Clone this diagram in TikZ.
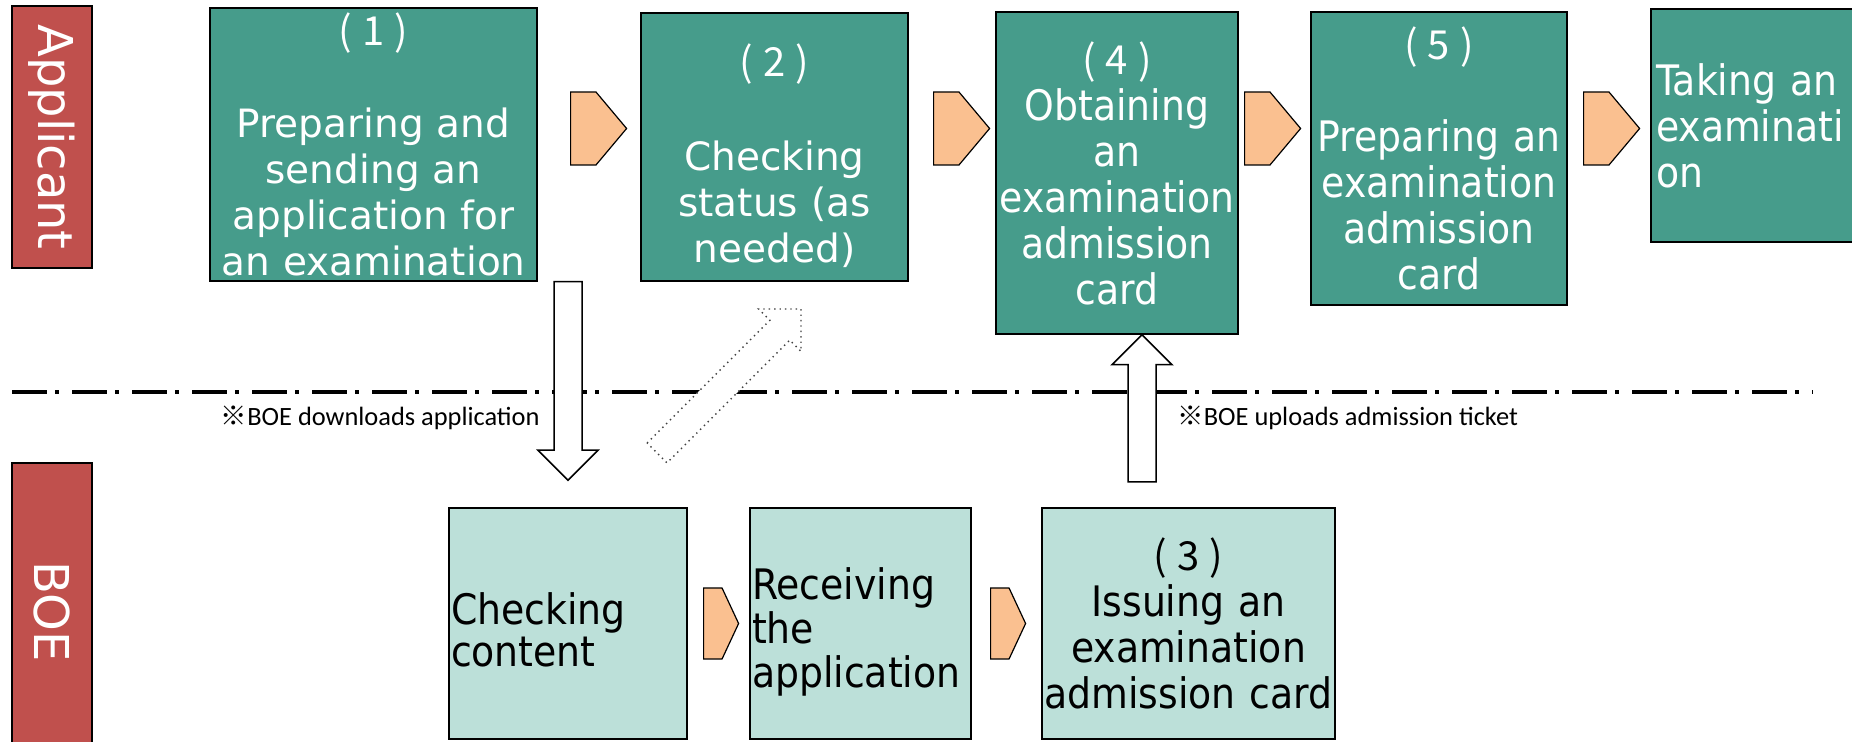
\documentclass[tikz,border=0pt]{standalone}
\usepackage{fontspec}
\setmainfont{DejaVu Sans}
\newfontfamily\jpfont{Noto Sans CJK JP}
\newfontfamily\narrowfont[FakeStretch=0.9]{DejaVu Sans}
\newfontfamily\notefont{Carlito}
\usetikzlibrary{calc,shapes.symbols}

\definecolor{stepteal}{RGB}{70,156,139}
\definecolor{boeteal}{RGB}{188,224,217}
\definecolor{lanered}{RGB}{192,80,77}
\definecolor{chevorange}{RGB}{250,192,144}

\newcommand\stepno[1]{{\jpfont\fontsize{20}{23}\selectfont(\hspace{5pt}#1\hspace{5pt})}}

% block arrow from #2 to #3 (tip)
\newcommand\blockarrow[3][]{%
\draw[#1] ($(#2)!7pt!90:(#3)$) -- ($(#3)!15pt!(#2)!7pt!-90:(#2)$)
  -- ($(#3)!15pt!(#2)!15pt!-90:(#2)$) -- (#3)
  -- ($(#3)!15pt!(#2)!15pt!90:(#2)$) -- ($(#3)!15pt!(#2)!7pt!90:(#2)$)
  -- ($(#2)!7pt!-90:(#3)$) -- cycle;}

\begin{document}
\begin{tikzpicture}[x=0.5pt, y=-0.5pt,
  lane/.style={draw=black, line width=0.75pt, fill=lanered, text=white, rotate=-90,
    minimum height=40pt, font=\fontsize{24}{24}\selectfont},
  stepbox/.style={draw=black, line width=0.75pt, fill=stepteal, text=white,
    align=center, inner sep=1pt, font=\narrowfont\fontsize{21}{23}\selectfont},
  boebox/.style={stepbox, fill=boeteal, text=black},
  chev/.style={signal, signal to=east, signal pointer angle=100, draw=black,
    line width=0.6pt, fill=chevorange, inner sep=0pt, anchor=west,
    minimum width=28pt, minimum height=36.5pt},
  note/.style={inner sep=0pt, font=\notefont\fontsize{13.2}{16}\selectfont}]

\path[use as bounding box, fill=white] (0,0) rectangle (1852,742);

% lanes
\node[lane, minimum width=131pt] (app) at (52,137) {Applicant};
\node[lane, minimum width=148.5pt] (boe) at (52,611.5) {BOE};

\draw[line width=2.2pt, dash pattern=on 17.5pt off 4pt on 2pt off 6.5pt] (12,392) -- (1813,392);

% applicant steps
\node[stepbox, font=\fontsize{19.5}{23}\selectfont, text width=161.5pt, minimum height=136.5pt]
  (b1) at (373.5,144.5) {\stepno{1}\\[23pt]Preparing and\\sending an\\application for\\an examination};
\node[stepbox, font=\fontsize{19.5}{23}\selectfont, text width=131.5pt, minimum height=134pt]
  (b2) at (774.5,147) {\rule{0pt}{25pt}\stepno{2}\\[24pt]Checking\\status (as\\needed)};
\node[stepbox, text width=119pt, minimum height=161pt]
  (b4) at (1117,173) {\stepno{4}\\Obtaining\\an\\examination\\admission\\card};
\node[stepbox, text width=126pt, minimum height=146.5pt]
  (b5) at (1439,158.5) {\stepno{5}\\[23pt]Preparing an\\examination\\admission\\card};
\node[stepbox, align=left, inner xsep=2.5pt, text width=119.5pt, minimum height=116.5pt]
  (b6) at (1775.5,125.5) {Taking an\\examinati\\on};

% BOE steps
\node[boebox, align=left, font=\narrowfont\fontsize{21}{21}\selectfont, text width=117pt, minimum height=115.5pt]
  (bA) at (568,623.5) {\rule{0pt}{22pt}Checking\\content};
\node[boebox, align=left, font=\narrowfont\fontsize{21}{22}\selectfont, text width=108.5pt, minimum height=115.5pt]
  (bB) at (860.5,623.5) {\rule{0pt}{24pt}Receiving\\the\\application};
\node[boebox, text width=144.5pt, minimum height=115.5pt]
  (bC) at (1188.5,623.5) {\stepno{3}\\Issuing an\\examination\\admission card};

% chevrons
\foreach \cx/\nm in {570/ca, 933/cb, 1244/cc, 1583/cd}{
\node[chev] (\nm) at (\cx,128.5) {};
}
\foreach \cx/\nm in {703/ce, 990/cf}{
\node[chev, signal pointer angle=130, minimum width=17.5pt, minimum height=35.5pt] (\nm) at (\cx,623.5) {};
}

% block arrows
\coordinate (dnS) at (b1.south -| bA.north);
\coordinate (dnE) at ($(bA.north)+(0,-27)$);
\coordinate (upS) at (1142,482);
\coordinate (upE) at (upS |- b4.south);
\coordinate (dgS) at (657,453);
\coordinate (dgE) at (801,309);

\blockarrow[draw=black, line width=0.75pt, fill=white]{dnS}{dnE}
\blockarrow[draw=black, line width=0.75pt, fill=white]{upS}{upE}
\blockarrow[draw=black!75, line width=0.7pt, dotted, fill=white]{dgS}{dgE}

\node[note, anchor=east] (dnL) at (540,418) {{\jpfont ※}BOE downloads application};
\node[note, anchor=west] (upL) at (1177,418) {{\jpfont ※}BOE uploads admission ticket};
\end{tikzpicture}
\end{document}
